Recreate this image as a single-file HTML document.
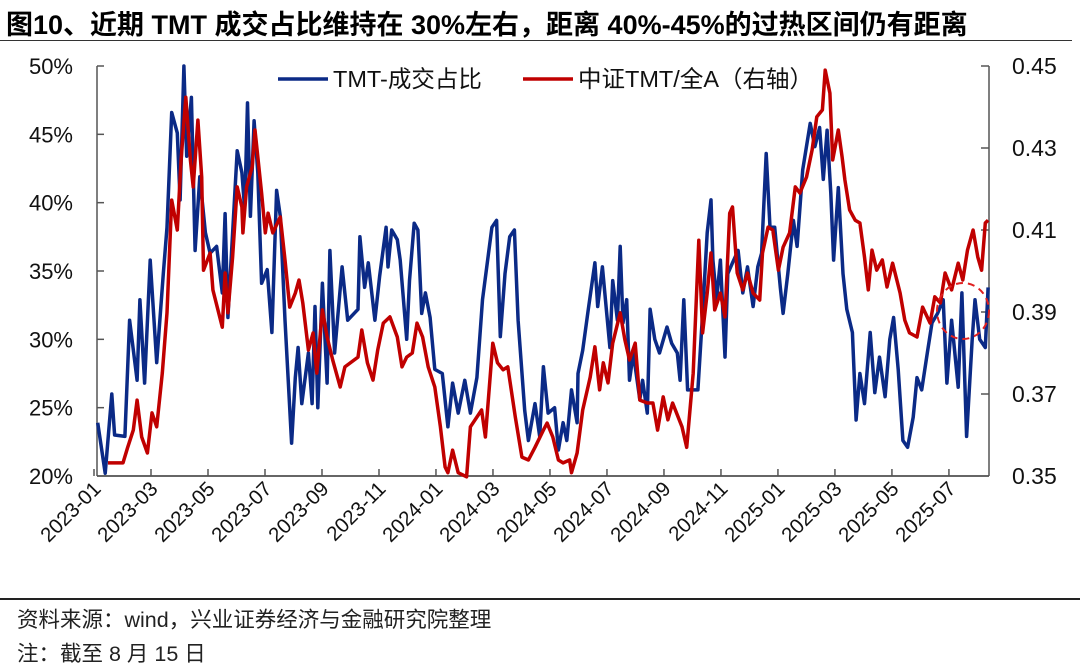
<!DOCTYPE html>
<html><head><meta charset="utf-8">
<style>
body{margin:0;background:#fff;width:1080px;height:668px;overflow:hidden;font-family:"Liberation Sans","Noto Sans CJK SC",sans-serif;}
.t{position:absolute;white-space:nowrap;color:#000;}
</style></head>
<body>
<div class="t" style="left:6px;top:3px;font-size:27px;font-weight:bold;">图10、近期 TMT 成交占比维持在 30%左右，距离 40%-45%的过热区间仍有距离</div>
<div style="position:absolute;left:0;top:40px;width:1072px;height:1px;background:#333;"></div>
<svg id="chart" width="1080" height="600" style="position:absolute;left:0;top:0;font-family:'Liberation Sans','Noto Sans CJK SC',sans-serif;"></svg>
<div style="position:absolute;left:0;top:598px;width:1080px;height:1.5px;background:#222;"></div>
<div class="t" style="left:17px;top:603px;font-size:21.5px;color:#222;">资料来源：wind，兴业证券经济与金融研究院整理</div>
<div class="t" style="left:17px;top:637px;font-size:21.5px;color:#222;">注：截至 8 月 15 日</div>
<script>
const xTickLabels=["2023-01","2023-03","2023-05","2023-07","2023-09","2023-11","2024-01","2024-03","2024-05","2024-07","2024-09","2024-11","2025-01","2025-03","2025-05","2025-07"];
const leftTicks=[20,25,30,35,40,45,50];
const rightTicks=[0.35,0.37,0.39,0.41,0.43,0.45];
// day offsets since 2023-01-01
const blueDays=[4,12,19,22,33,38,46,49,54,60,67,74,78,83,89,92,96,99,104,108,113,119,124,131,137,140,143,153,158,161,164,167,171,175,179,185,190,195,199,204,211,215,218,222,229,233,236,239,244,249,252,257,265,271,282,284,289,293,300,305,312,314,318,324,327,334,337,342,346,350,354,359,364,372,378,383,389,396,402,409,415,425,430,434,439,444,449,453,460,464,471,476,480,485,492,496,501,505,510,516,517,522,528,535,538,543,548,551,554,559,562,565,569,572,576,583,586,591,594,599,604,612,617,623,626,630,634,645,650,655,659,661,665,669,674,677,682,688,693,698,704,709,713,718,722,727,733,736,741,747,751,757,765,770,775,779,783,787,790,795,800,804,810,814,818,823,829,834,839,845,850,854,859,864,869,875,879,884,890,895,901,907,911,916,923,927,932,938,941,946,952,955];
const blueVals=[23.9,20.2,26,23,22.9,31.4,27,32.9,26.8,35.8,28.3,34.8,38.2,46.6,45.1,40.2,50,43.4,47.7,36.5,41.9,37.8,36.3,36.8,33.4,39.2,31.6,43.8,42.2,39.5,47.3,39,46,42.2,34.1,35.1,30.5,40.9,39,31.4,22.4,27.2,29.4,25.3,29,25.3,32.4,25,34.1,26.8,36.5,29,35.3,31.4,32.2,37.5,33.8,35.6,31.4,34.6,38.2,35.3,38,37.3,35.8,30,34.3,38.5,38,31.9,33.4,31.6,27.8,27.5,23.6,26.8,24.6,27,24.6,27.2,32.9,38.2,38.7,30.2,34.8,37.5,38,31.4,24.8,22.6,25.3,22.9,28,24.6,25,21.9,23.9,22.6,26.3,23.9,27.5,29.2,32.2,35.6,32.4,35.3,31.6,29.4,34.3,31.4,36.8,31.2,32.9,27,29,25.6,27,24.6,32.2,30,29,30.9,29.7,29,27,32.9,26.3,26.3,31.9,37.8,40.2,35.8,32.9,35.8,28.7,34.8,35.6,36.5,33.4,35.3,32.4,35.3,36.3,43.6,38.2,38.2,33.8,31.9,34.8,38.7,36.8,42.4,45.8,44.1,45.5,41.7,45.3,40.7,35.8,41.1,34.8,32.2,30.5,24.1,27.5,25.3,30.5,26.1,28.7,25.8,30,31.6,27.8,22.6,22.1,24.3,27.2,26.3,29,31.2,31.9,32.9,26.8,31.4,26.5,33.4,22.9,30,32.9,30,29.4,33.8];
const redDays=[15,19,31,36,42,46,51,57,62,67,73,78,83,89,93,98,103,106,111,115,117,124,127,137,140,143,148,153,158,159,163,169,172,179,183,186,191,199,204,209,215,219,223,229,234,238,244,249,255,263,268,282,286,292,298,303,309,316,324,329,334,340,345,351,357,364,370,375,378,383,389,398,402,414,418,426,431,437,442,450,457,464,471,480,484,490,496,501,508,510,516,522,530,535,540,544,549,554,562,567,572,578,583,591,597,602,608,613,618,628,633,640,646,650,655,659,663,669,674,679,682,687,693,698,704,711,714,720,725,731,736,743,749,754,761,767,772,778,781,786,789,795,799,802,807,813,818,823,827,831,836,842,847,853,861,866,871,879,885,893,898,904,909,916,923,928,933,939,944,948,952,955];
const redVals=[0.3532,0.3532,0.3532,0.357,0.3612,0.3685,0.3595,0.3556,0.3654,0.362,0.3751,0.3898,0.4173,0.41,0.4271,0.4424,0.4271,0.4205,0.4368,0.4229,0.4002,0.4044,0.3954,0.3863,0.3995,0.3898,0.4034,0.4205,0.4156,0.4093,0.4205,0.4254,0.4344,0.419,0.4093,0.4141,0.4093,0.4132,0.4027,0.3912,0.3946,0.3978,0.3922,0.3807,0.3849,0.3751,0.3905,0.3839,0.3783,0.3717,0.3766,0.379,0.3856,0.3776,0.3734,0.3807,0.3873,0.3888,0.3839,0.3766,0.379,0.38,0.3873,0.3839,0.3766,0.3717,0.362,0.3522,0.3508,0.3563,0.3508,0.3498,0.362,0.3661,0.3595,0.3824,0.3776,0.3759,0.3766,0.3644,0.3546,0.3539,0.357,0.3612,0.3629,0.3595,0.3539,0.3532,0.3539,0.3508,0.3556,0.3661,0.3741,0.3815,0.371,0.3776,0.3727,0.3824,0.3898,0.3832,0.3783,0.3824,0.3685,0.3678,0.3678,0.3612,0.3693,0.3637,0.3678,0.362,0.357,0.3751,0.4075,0.3849,0.3946,0.4044,0.3905,0.3946,0.3888,0.4141,0.4156,0.3995,0.3954,0.3995,0.3946,0.3929,0.4044,0.4107,0.41,0.4002,0.4058,0.4093,0.4205,0.419,0.4229,0.4295,0.4376,0.4393,0.449,0.4434,0.4271,0.4344,0.4278,0.4222,0.4149,0.4124,0.4117,0.4034,0.3954,0.4051,0.4002,0.4027,0.3961,0.4019,0.3946,0.388,0.3849,0.3839,0.3912,0.3873,0.3937,0.3922,0.3995,0.3954,0.4019,0.3978,0.4051,0.41,0.4034,0.4002,0.4117,0.4124];

const svg=document.getElementById('chart');
const NS='http://www.w3.org/2000/svg';
const X0=94,X1=990,D1=957,TOP=66,BOT=476,AXL=97,AXR=989;
const xS=d=>X0+(d/D1)*(X1-X0);
const yL=v=>BOT-(v-20)/30*(BOT-TOP);
const yR=v=>BOT-(v-0.35)/0.10*(BOT-TOP);
function mk(tag,attrs){const e=document.createElementNS(NS,tag);for(const k in attrs)e.setAttribute(k,attrs[k]);svg.appendChild(e);return e;}

let e=mk('line',{x1:AXL,y1:TOP,x2:AXL,y2:BOT,stroke:'#555','stroke-width':1.5});


e=mk('line',{x1:AXR,y1:TOP,x2:AXR,y2:BOT,stroke:'#555','stroke-width':1.5});


e=mk('line',{x1:AXL,y1:BOT,x2:AXR,y2:BOT,stroke:'#333','stroke-width':1.5});



leftTicks.forEach(v=>{
  const y=yL(v);
  const l=mk('line',{x1:AXL,y1:y,x2:AXL+7,y2:y,stroke:'#555','stroke-width':1.5});
  
  
  const t=mk('text',{x:73,y:y+8,'text-anchor':'end','font-size':22,fill:'#111'});
  t.textContent=v+'%';
  
  
});
rightTicks.forEach(v=>{
  const y=yR(v);
  const l=mk('line',{x1:AXR-8,y1:y,x2:AXR,y2:y,stroke:'#555','stroke-width':1.5});
  
  
  const t=mk('text',{x:1012,y:y+8,'font-size':23,fill:'#111'});
  t.textContent=v.toFixed(2);
  
  
});
xTickLabels.forEach((s,i)=>{
  const y=+s.slice(0,4),m=+s.slice(5);
  const d=(y-2023)*365.25+(m-1)*30.44;
  const x=xS(d);
  const l=mk('line',{x1:x,y1:BOT,x2:x,y2:BOT-7,stroke:'#555','stroke-width':1.5});
  
  
  const t=mk('text',{x:x+8,y:BOT+14,'text-anchor':'end','font-size':20.5,fill:'#111',transform:`rotate(-45 ${x+8} ${BOT+14})`});
  t.textContent=s;
  
  
});

function series(days,vals,ys,color,name){
  const pts=days.map((d,i)=>xS(d).toFixed(1)+','+ys(vals[i]).toFixed(1)).join(' ');
  const p=mk('polyline',{points:pts,fill:'none',stroke:color,'stroke-width':3.5,'stroke-linejoin':'round'});
  
  
}
series(blueDays,blueVals,yL,'#0b2a86','tmt-turnover-share-line');
series(redDays,redVals,yR,'#c00000','tmt-vs-all-a-line');

e=mk('ellipse',{cx:963,cy:311,rx:26,ry:28,fill:'none',stroke:'#e02020','stroke-width':2,'stroke-dasharray':'7,5'});



e=mk('line',{x1:278,y1:79,x2:328,y2:79,stroke:'#0b2a86','stroke-width':3.5});


e=mk('text',{x:333,y:87,'font-size':23.5,fill:'#111'});
e.textContent='TMT-成交占比';


e=mk('line',{x1:523,y1:79,x2:573,y2:79,stroke:'#c00000','stroke-width':3.5});


e=mk('text',{x:578,y:87,'font-size':23.5,fill:'#111'});
e.textContent='中证TMT/全A（右轴）';


</script>
</body></html>
